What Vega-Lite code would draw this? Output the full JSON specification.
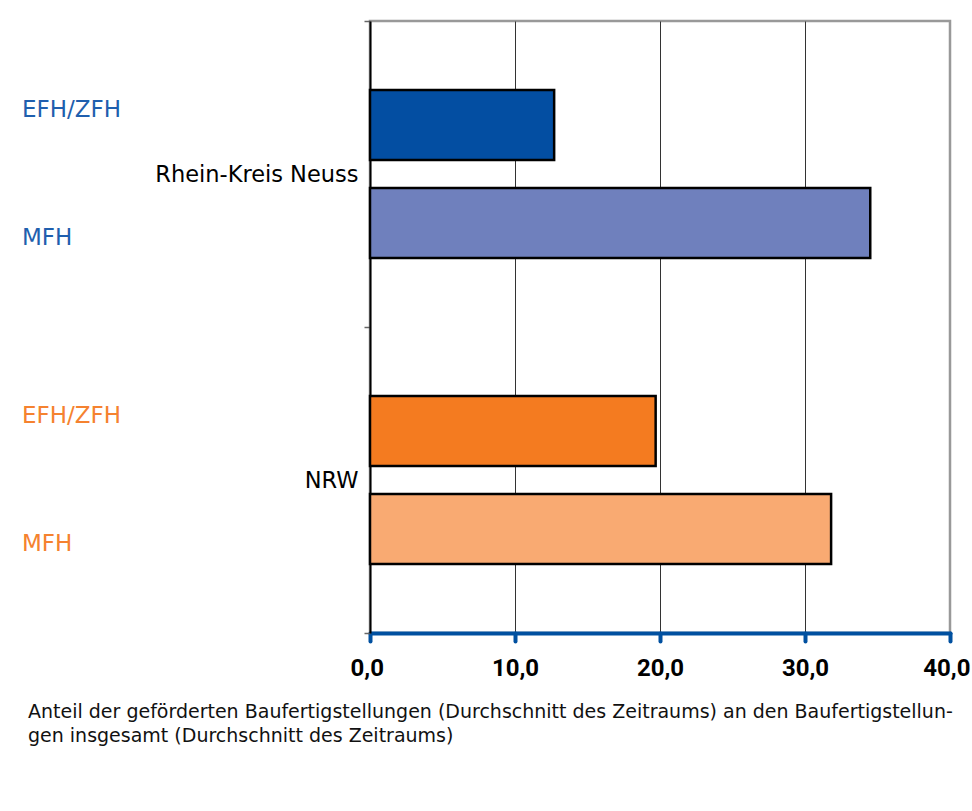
{
  "$schema": "https://vega.github.io/schema/vega-lite/v6.json",
  "background": "white",
  "padding": {"left": 5, "top": 8, "right": 5, "bottom": 10},
  "autosize": {"type": "pad"},
  "bounds": "flush",
  "spacing": 331,
  "title": {
    "text": ["Anteil der geförderten Baufertigstellungen (Durchschnitt des Zeitraums) an den Baufertigstellun-", "gen insgesamt (Durchschnitt des Zeitraums)"],
    "orient": "bottom",
    "anchor": "start",
    "font": "DejaVu Sans",
    "fontSize": 19,
    "fontWeight": "normal",
    "color": "#111111",
    "offset": 22,
    "lineHeight": 24,
    "dx": 23
  },
  "datasets": {
    "bars": [
      {"region": "Rhein-Kreis Neuss", "type": "EFH/ZFH", "series": "Rhein-Kreis Neuss EFH/ZFH", "value": 12.7},
      {"region": "Rhein-Kreis Neuss", "type": "MFH", "series": "Rhein-Kreis Neuss MFH", "value": 34.5},
      {"region": "NRW", "type": "EFH/ZFH", "series": "NRW EFH/ZFH", "value": 19.7},
      {"region": "NRW", "type": "MFH", "series": "NRW MFH", "value": 31.8}
    ]
  },
  "resolve": {"scale": {"color": "independent", "y": "independent", "yOffset": "independent", "x": "independent"}},
  "hconcat": [
    {
      "width": 34,
      "height": 612,
      "view": {"stroke": null},
      "data": {"name": "bars"},
      "mark": {"type": "text", "align": "left", "baseline": "middle", "fontSize": 23, "font": "DejaVu Sans"},
      "encoding": {
        "y": {"field": "region", "type": "nominal", "sort": ["Rhein-Kreis Neuss", "NRW"], "scale": {"paddingInner": 0, "paddingOuter": 0}, "axis": null},
        "yOffset": {"field": "type", "type": "nominal", "sort": ["EFH/ZFH", "MFH"], "scale": {"type": "point", "padding": 0.7}},
        "text": {"field": "type"},
        "color": {
          "field": "series",
          "type": "nominal",
          "scale": {
            "domain": ["Rhein-Kreis Neuss EFH/ZFH", "Rhein-Kreis Neuss MFH", "NRW EFH/ZFH", "NRW MFH"],
            "range": ["#1f5fae", "#1f5fae", "#f5822f", "#f5822f"]
          },
          "legend": null
        }
      }
    },
    {
      "width": 580,
      "height": 612,
      "data": {"name": "bars"},
      "mark": {"type": "bar", "stroke": "#000000", "strokeWidth": 2.5},
      "encoding": {
        "y": {
          "field": "region",
          "type": "nominal",
          "sort": ["Rhein-Kreis Neuss", "NRW"],
          "scale": {"paddingInner": 0, "paddingOuter": 0},
          "axis": {
            "title": null,
            "domainColor": "#000000",
            "domainWidth": 2,
            "tickColor": "#666666",
            "tickWidth": 1.5,
            "tickSize": 6,
            "tickBand": "extent",
            "labelFont": "DejaVu Sans",
            "labelFontSize": 22.5,
            "labelColor": "#000000",
            "labelPadding": 6,
            "labelLimit": 0,
            "grid": false
          }
        },
        "yOffset": {"field": "type", "type": "nominal", "sort": ["EFH/ZFH", "MFH"], "scale": {"paddingInner": 0.286, "paddingOuter": 0.704}},
        "x": {
          "field": "value",
          "type": "quantitative",
          "scale": {"domain": [0, 40], "nice": false},
          "axis": {
            "title": null,
            "values": [0, 10, 20, 30, 40],
            "labelExpr": "replace(format(datum.value, '.1f'), '.', ',')",
            "domainColor": "#0050a0",
            "domainWidth": 4,
            "domainCap": "round",
            "tickColor": "#0050a0",
            "tickWidth": 4,
            "tickCap": "round",
            "tickSize": 8,
            "labelFont": "Roboto",
            "labelFontSize": 24,
            "labelFontWeight": "bold",
            "labelColor": "#000000",
            "labelPadding": 15,
            "labelFlush": true,
            "labelFlushOffset": 20,
            "grid": true,
            "gridColor": "#333333",
            "gridWidth": 1,
            "gridOpacity": {"condition": {"test": "datum.value === 0 || datum.value === 40", "value": 0}, "value": 1}
          }
        },
        "color": {
          "field": "series",
          "type": "nominal",
          "scale": {
            "domain": ["Rhein-Kreis Neuss EFH/ZFH", "Rhein-Kreis Neuss MFH", "NRW EFH/ZFH", "NRW MFH"],
            "range": ["#034ea2", "#6f80bd", "#f47b20", "#f9aa72"]
          },
          "legend": null
        }
      }
    }
  ],
  "config": {
    "font": "DejaVu Sans",
    "view": {"stroke": "#999999", "strokeWidth": 2.5}
  }
}
